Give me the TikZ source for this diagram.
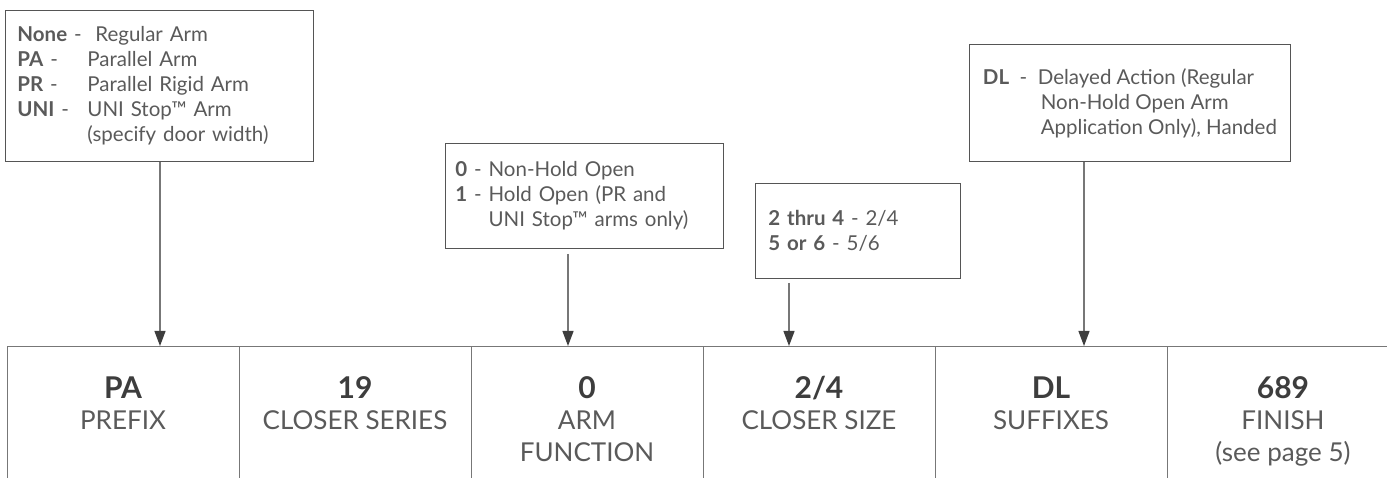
\documentclass[tikz,border=0pt]{standalone}
\usepackage{fontspec}
\setmainfont{Lato}
\usepackage{xcolor}
\usetikzlibrary{arrows.meta,positioning}

\definecolor{inkdark}{HTML}{3D3D3D}
\definecolor{inklight}{HTML}{5A5A5A}
\definecolor{rulegray}{HTML}{777777}
\definecolor{framegray}{HTML}{555555}

\newcommand{\optline}[3]{\makebox[#1][l]{\textbf{#2} -}#3}

\begin{document}
\begin{tikzpicture}[x=1pt, y=-1pt, font=\fontsize{20.5}{25}\selectfont, text=inklight]
            \tikzset{
                optbox/.style={draw=framegray, line width=0.9pt, align=left, anchor=north west, inner ysep=0pt},
                cell/.style={draw=rulegray, line width=1.4pt, anchor=north west, minimum width=232pt, minimum height=170pt, inner sep=0pt},
                val/.style={anchor=base, inner sep=0pt, font=\fontsize{30}{36}\selectfont\bfseries, text=inkdark},
                capt/.style={anchor=north, align=center, inner sep=0pt, font=\fontsize{26}{32}\selectfont},
                drop/.style={draw=rulegray, line width=1.2pt, -{Triangle[width=11pt, length=15pt, color=inkdark]}}
            }
            \useasboundingbox (0,0) rectangle (1387,478);
            \clip (0,0) rectangle (1387,478);

            % ---- OPTION BOXES ----

            \node[optbox, text width=284pt, inner xsep=12pt, minimum height=151pt] (prefixopts) at (5,10) {%
                \textbf{None} -\ \ Regular Arm\\
                \optline{70pt}{PA}{Parallel Arm}\\
                \optline{70pt}{PR}{Parallel Rigid Arm}\\
                \optline{70pt}{UNI}{UNI Stop™ Arm}\\
                \hspace*{70pt}(specify door width)};

            \node[optbox, text width=258pt, inner xsep=10pt, minimum height=105pt] (armopts) at (445,143) {%
                \textbf{0} - Non-Hold Open\\
                \textbf{1} - Hold Open (PR and\\
                \phantom{\textbf{1} - }UNI Stop™ arms only)};

            \node[optbox, text width=179pt, inner xsep=13pt, minimum height=95pt] (sizeopts) at (755,183) {%
                \textbf{2 thru 4} - 2/4\\
                \textbf{5 or 6} - 5/6};

            \node[optbox, minimum width=321pt, minimum height=117pt, inner xsep=0pt] (suffixopts) at (969,44) {%
                \textbf{DL}\ \ -\ \ Delayed Action (Regular\\
                \phantom{\textbf{DL}\ \ -\ \ }\hspace*{3pt}Non-Hold Open Arm\\
                \phantom{\textbf{DL}\ \ -\ \ }\hspace*{3pt}Application Only), Handed};

            % ---- MODEL NUMBER ROW ----

            \foreach \name/\val/\cap [count=\i] in {cprefix/PA/PREFIX, cseries/19/CLOSER SERIES,
                    carm/0/{ARM\\FUNCTION}, csize/{2/4}/CLOSER SIZE, csuffix/DL/SUFFIXES,
                    cfinish/689/{FINISH\\(see page 5)}} {
                    \node[cell] (\name) at ({7+232*(\i-1)},346) {};
                    \node[val] (\name-v) at ({123+232*(\i-1)},398) {\val};
                    \node[capt] (\name-c) at ({123+232*(\i-1)},410.6) {\cap};
                }

            % ---- ARROWS ----

            \coordinate (prefixdrop) at (160,0);
            \coordinate (armdrop) at (568,0);
            \coordinate (sizedrop) at (789,0);
            \coordinate (suffixdrop) at (1084,0);

            \draw[drop] (prefixopts.south -| prefixdrop) -- (cprefix.north -| prefixdrop);
            \draw[drop, shorten <=5pt] (armopts.south -| armdrop) -- (carm.north -| armdrop);
            \draw[drop, shorten <=4pt] (sizeopts.south -| sizedrop) -- (csize.north -| sizedrop);
            \draw[drop] (suffixopts.south -| suffixdrop) -- (csuffix.north -| suffixdrop);

        \end{tikzpicture}
\end{document}
